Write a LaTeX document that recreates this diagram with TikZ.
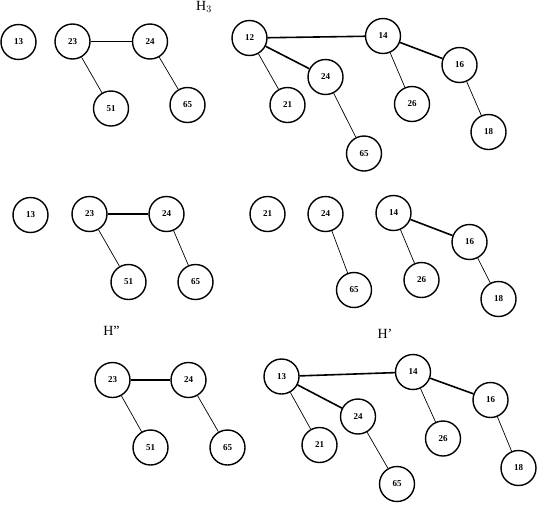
\documentclass[tikz,border=0pt]{standalone}
\usepackage{fontspec}
\setmainfont{Liberation Serif}

\begin{document}
\begin{tikzpicture}[x=1pt,y=-1pt,
    key/.style={draw,circle,line width=1.4pt,minimum size=35pt,inner sep=0pt,font=\bfseries\fontsize{9}{10}\selectfont},
    link/.style={line width=1.6pt},
    sub/.style={line width=0.7pt},
    title/.style={font=\fontsize{14}{16}\selectfont}]
    \useasboundingbox (0,0) rectangle (538,512);

    % H3 (top)
    \node[title] (tH3) at (204,7) {H$_3$};
    \node[key] (a13) at (18.5,42) {13};
    \node[key] (a23) at (72.5,41.5) {23};
    \node[key] (a24) at (150,41.5) {24};
    \node[key] (a51) at (111,108.5) {51};
    \node[key] (a65) at (187.5,105) {65};
    \node[key] (b12) at (249.5,38) {12};
    \node[key] (b14) at (383,36) {14};
    \node[key] (b16) at (459.5,65) {16};
    \node[key] (b24) at (325.5,77) {24};
    \node[key] (b21) at (287.5,105) {21};
    \node[key] (b26) at (412,104) {26};
    \node[key] (b65) at (364,153.5) {65};
    \node[key] (b18) at (488.5,132) {18};

    \draw[link] (a23) -- (a24);
    \draw[sub] (a23) -- (a51);
    \draw[sub] (a24) -- (a65);
    \draw[link] (b12) -- (b14);
    \draw[link] (b14) -- (b16);
    \draw[link] (b12) -- (b24);
    \draw[sub] (b12) -- (b21);
    \draw[sub] (b24) -- (b65);
    \draw[sub] (b14) -- (b26);
    \draw[sub] (b16) -- (b18);

    % after removing the minimum
    \node[key] (c13) at (30.5,215) {13};
    \node[key] (c23) at (89.5,214) {23};
    \node[key] (c24) at (166.5,214) {24};
    \node[key] (c51) at (128.5,282) {51};
    \node[key] (c65) at (195.5,282) {65};
    \node[key] (d21) at (267.5,214) {21};
    \node[key] (d24) at (325.5,214) {24};
    \node[key] (d14) at (393.5,213) {14};
    \node[key] (d16) at (469.5,242) {16};
    \node[key] (d26) at (421.5,280) {26};
    \node[key] (d65) at (354,290) {65};
    \node[key] (d18) at (498.5,299) {18};

    \draw[link] (c23) -- (c24);
    \draw[sub] (c23) -- (c51);
    \draw[sub] (c24) -- (c65);
    \draw[sub] (d24) -- (d65);
    \draw[link] (d14) -- (d16);
    \draw[sub] (d14) -- (d26);
    \draw[sub] (d16) -- (d18);

    % H'' and H'
    \node[title] (tH2) at (111.5,331) {H''};
    \node[title] (tH1) at (385,334) {H'};
    \node[key] (e23) at (112.5,380) {23};
    \node[key] (e24) at (188.5,380) {24};
    \node[key] (e51) at (150.5,447.5) {51};
    \node[key] (e65) at (227.5,447.5) {65};
    \node[key] (f13) at (281.5,376.5) {13};
    \node[key] (f14) at (413,372) {14};
    \node[key] (f16) at (490.5,400) {16};
    \node[key] (f24) at (358,416.5) {24};
    \node[key] (f21) at (319.5,445) {21};
    \node[key] (f26) at (443,438.5) {26};
    \node[key] (f65) at (397,484) {65};
    \node[key] (f18) at (518.5,468) {18};

    \draw[link] (e23) -- (e24);
    \draw[sub] (e23) -- (e51);
    \draw[sub] (e24) -- (e65);
    \draw[link] (f13) -- (f14);
    \draw[link] (f14) -- (f16);
    \draw[link] (f13) -- (f24);
    \draw[sub] (f13) -- (f21);
    \draw[sub] (f24) -- (f65);
    \draw[sub] (f14) -- (f26);
    \draw[sub] (f16) -- (f18);
\end{tikzpicture}
\end{document}
